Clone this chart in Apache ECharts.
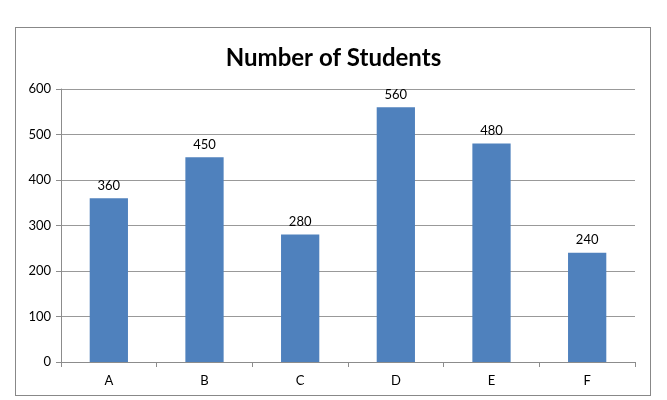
<!DOCTYPE html>
<html><head><meta charset="utf-8">
<script src="https://cdn.jsdelivr.net/npm/echarts@6/dist/echarts.min.js"></script>
<style>html,body{margin:0;padding:0;background:#fff}#c{width:667px;height:400px}
#frame{position:absolute;left:15px;top:27px;width:636px;height:369px;border:1.5px solid #888;box-sizing:border-box;pointer-events:none}</style>
</head><body><div id="c"></div><div id="frame"></div>
<script>
const categories = ['A','B','C','D','E','F'];
const students = [360,450,280,560,480,240];
const yTicks = [0,100,200,300,400,500,600];
const chart = echarts.init(document.getElementById('c'));
chart.setOption({
  animation:false,
  title:{text:'Number of Students',left:'center',top:41,textStyle:{fontFamily:'Lato',fontWeight:'bold',fontSize:24,color:'#000'}},
  grid:{left:61,right:32,top:89,bottom:38},
  xAxis:{type:'category',data:categories,boundaryGap:true,
    axisLine:{lineStyle:{color:'#8c8c8c'}},
    axisTick:{show:true,length:5,lineStyle:{color:'#8c8c8c'}},
    axisLabel:{color:'#000',fontFamily:'Lato',fontSize:13,margin:12}},
  yAxis:{type:'value',min:yTicks[0],max:yTicks[yTicks.length-1],interval:100,
    axisLine:{show:true,lineStyle:{color:'#8c8c8c'}},
    axisTick:{show:true,length:5,lineStyle:{color:'#8c8c8c'}},
    splitLine:{lineStyle:{color:'#999'}},
    axisLabel:{color:'#000',fontFamily:'Lato',fontSize:13,margin:10}},
  series:[{type:'bar',data:students,barWidth:'40%',itemStyle:{color:'#4F81BD'},
    label:{show:true,position:'top',distance:6,color:'#000',fontFamily:'Lato',fontSize:13}}]
});
</script></body></html>
